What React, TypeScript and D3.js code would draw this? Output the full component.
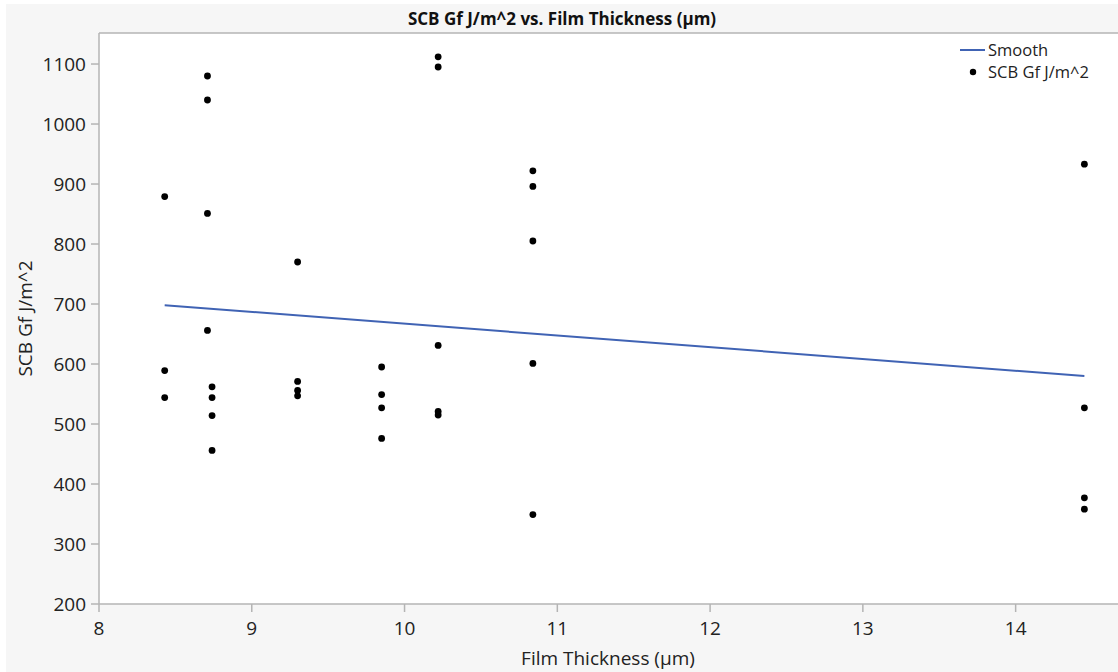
import React from "react";
import * as d3 from "d3";

// film thickness (µm) for each sample
const thickness = [
  8.43, 8.43, 8.43,
  8.71, 8.71, 8.71, 8.71,
  8.74, 8.74, 8.74, 8.74,
  9.3, 9.3, 9.3, 9.3,
  9.85, 9.85, 9.85, 9.85,
  10.22, 10.22, 10.22, 10.22, 10.22,
  10.84, 10.84, 10.84, 10.84, 10.84,
  14.45, 14.45, 14.45, 14.45,
];
// SCB Gf J/m^2
const gf = [
  879, 589, 544,
  1080, 1040, 851, 656,
  562, 544, 514, 456,
  770, 571, 556, 547,
  595, 549, 527, 476,
  1112, 1095, 631, 521, 515,
  922, 896, 805, 601, 349,
  933, 527, 377, 358,
];
// smooth fit endpoints
const smoothX = [8.43, 14.45];
const smoothY = [698, 580];

const xTicks = [8, 9, 10, 11, 12, 13, 14];
const yTicks = [200, 300, 400, 500, 600, 700, 800, 900, 1000, 1100];

const W = 1118;
const H = 672;
const plot = { left: 99, top: 33, right: 1118, bottom: 604 };
const font = "'Open Sans', 'Noto Sans', sans-serif";
const axisColor = "#b4b4b4";
const textColor = "#222";

export default function App() {
  const x = d3.scaleLinear().domain([8, 14.67]).range([plot.left, plot.right]);
  const y = d3.scaleLinear().domain([200, 1151.7]).range([plot.bottom, plot.top]);

  const line = d3
    .line<number>()
    .x((d, i) => x(smoothX[i]))
    .y((d) => y(d));

  return (
    <svg
      width={W}
      height={H}
      style={{ position: "absolute", left: 0, top: 0, display: "block" }}
      fontFamily={font}
    >
      <rect x={0} y={0} width={W} height={H} fill="#ffffff" />
      <rect x={6} y={4} width={W - 6} height={H - 4} fill="#f6f6f6" />
      <rect
        x={plot.left}
        y={plot.top}
        width={plot.right - plot.left + 2}
        height={plot.bottom - plot.top}
        fill="#ffffff"
      />

      {/* title */}
      <text x={562} y={25} textAnchor="middle" fontSize={17} fontWeight="bold" fill="#111">
        SCB Gf J/m^2 vs. Film Thickness (µm)
      </text>

      {/* frame */}
      <line x1={plot.left} x2={W} y1={plot.top} y2={plot.top} stroke={axisColor} strokeWidth={1.5} />
      <line x1={plot.left} x2={plot.left} y1={plot.top} y2={plot.bottom} stroke={axisColor} strokeWidth={1.5} />
      <line x1={plot.left} x2={W} y1={plot.bottom} y2={plot.bottom} stroke={axisColor} strokeWidth={1.5} />

      {/* y axis */}
      {yTicks.map((t) => (
        <g key={t}>
          <line x1={plot.left - 8} x2={plot.left} y1={y(t)} y2={y(t)} stroke={axisColor} strokeWidth={1.5} />
          <text x={plot.left - 13} y={y(t)} dy="0.35em" textAnchor="end" fontSize={19} fill={textColor}>
            {t}
          </text>
        </g>
      ))}

      {/* x axis */}
      {xTicks.map((t) => (
        <g key={t}>
          <line x1={x(t)} x2={x(t)} y1={plot.bottom} y2={plot.bottom + 8} stroke={axisColor} strokeWidth={1.5} />
          <text x={x(t)} y={plot.bottom + 24} dy="0.35em" textAnchor="middle" fontSize={19} fill={textColor}>
            {t}
          </text>
        </g>
      ))}

      <text x={608} y={658} dy="0.35em" textAnchor="middle" fontSize={19} fill={textColor}>
        Film Thickness (µm)
      </text>
      <text
        transform={`translate(25,${(plot.top + plot.bottom) / 2}) rotate(-90)`}
        textAnchor="middle"
        dy="0.35em"
        fontSize={19}
        fill={textColor}
      >
        SCB Gf J/m^2
      </text>

      {/* smooth line */}
      <path d={line(smoothY) ?? ""} fill="none" stroke="#4063b4" strokeWidth={2} />

      {/* points */}
      {gf.map((v, i) => (
        <circle key={i} cx={x(thickness[i])} cy={y(v)} r={3.4} fill="#000" />
      ))}

      {/* legend */}
      <line x1={960} x2={985} y1={50} y2={50} stroke="#4063b4" strokeWidth={2} />
      <text x={988} y={50} dy="0.35em" fontSize={16.5} fill={textColor}>
        Smooth
      </text>
      <circle cx={973} cy={72} r={3.2} fill="#000" />
      <text x={988} y={72} dy="0.35em" fontSize={16.5} fill={textColor}>
        SCB Gf J/m^2
      </text>
    </svg>
  );
}
